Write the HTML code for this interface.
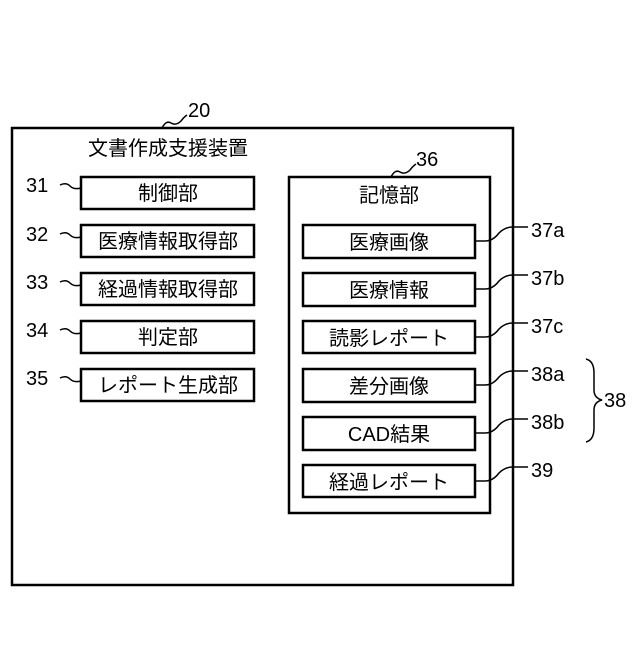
<!DOCTYPE html>
<html><head><meta charset="utf-8"><style>
body{margin:0;width:640px;height:640px;background:#fff;overflow:hidden}
svg text{font-family:"Liberation Sans","Noto Sans CJK JP",sans-serif;fill:#000}
</style></head><body>
<svg width="640" height="640" viewBox="0 0 640 640" xmlns="http://www.w3.org/2000/svg">
<g fill="none" stroke="#000">
<rect x="12" y="128" width="501" height="457" stroke-width="2.5"/>
<rect x="289" y="177" width="201" height="336" stroke-width="2.5"/>
<g stroke-width="2.5">
<rect x="81" y="177" width="173" height="32"/>
<rect x="81" y="225" width="173" height="32"/>
<rect x="81" y="273" width="173" height="32"/>
<rect x="81" y="321" width="173" height="32"/>
<rect x="81" y="369" width="173" height="32"/>
<rect x="303" y="225" width="172" height="33"/>
<rect x="303" y="273" width="172" height="33"/>
<rect x="303" y="321" width="172" height="32"/>
<rect x="303" y="369" width="172" height="33"/>
<rect x="303" y="417" width="172" height="33"/>
<rect x="303" y="465" width="172" height="32"/>
</g>
<g stroke-width="1.5">
<path d="M162 128 q4 -8 9 -5 q5 3 10 -2 q3 -4 6 -6"/>
<path d="M391 177 q4 -8 9 -5 q5 3 10 -2 q3 -4 6 -6"/>
<path d="M60 185 q6 -3 10 1 q4 4 11 2"/>
<path d="M60 234 q6 -3 10 1 q4 4 11 2"/>
<path d="M60 282 q6 -3 10 1 q4 4 11 2"/>
<path d="M60 330 q6 -3 10 1 q4 4 11 2"/>
<path d="M60 378 q6 -3 10 1 q4 4 11 2"/>
<path d="M475 241 h10 q8 0 14 -8 q6 -6 14 -6 h15"/>
<path d="M475 289 h10 q8 0 14 -8 q6 -6 14 -6 h15"/>
<path d="M475 337 h10 q8 0 14 -8 q6 -6 14 -6 h15"/>
<path d="M475 385 h10 q8 0 14 -8 q6 -6 14 -6 h15"/>
<path d="M475 433 h10 q8 0 14 -8 q6 -6 14 -6 h15"/>
<path d="M475 481 h10 q8 0 14 -8 q6 -6 14 -6 h15"/>
<path d="M586 359 q8 2 8 14 v17 q0 8 8 10 q-8 2 -8 10 v18 q0 12 -8 14"/>
</g>
</g>
<g font-size="20" text-anchor="middle">
<text x="168" y="155">文書作成支援装置</text>
<text x="389" y="202">記憶部</text>
<text x="168" y="200">制御部</text>
<text x="168" y="248">医療情報取得部</text>
<text x="168" y="296">経過情報取得部</text>
<text x="168" y="344">判定部</text>
<text x="168" y="392">レポート生成部</text>
<text x="389" y="249">医療画像</text>
<text x="389" y="297">医療情報</text>
<text x="389" y="345">読影レポート</text>
<text x="389" y="393">差分画像</text>
<text x="389" y="441">CAD結果</text>
<text x="389" y="489">経過レポート</text>
</g>
<g font-size="20">
<text x="188" y="117">20</text>
<text x="416" y="166">36</text>
<text x="26" y="192">31</text>
<text x="26" y="241">32</text>
<text x="26" y="289">33</text>
<text x="26" y="337">34</text>
<text x="26" y="385">35</text>
<text x="531" y="237">37a</text>
<text x="531" y="285">37b</text>
<text x="531" y="333">37c</text>
<text x="531" y="381">38a</text>
<text x="531" y="429">38b</text>
<text x="531" y="477">39</text>
<text x="604" y="407">38</text>
</g>
</svg>
</body></html>
